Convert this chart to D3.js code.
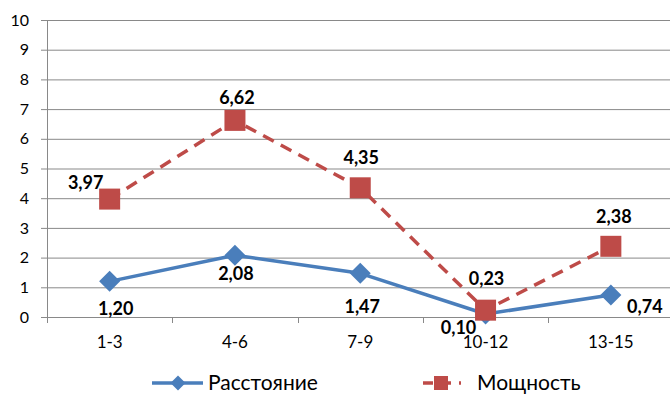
<!DOCTYPE html>
<html><head><meta charset="utf-8">
<script src="https://cdn.jsdelivr.net/npm/d3@7"></script>
<style>body{margin:0;background:#fff}svg{display:block}text{font-family:Lato,"Open Sans",sans-serif}</style>
</head><body>
<svg id="c" width="670" height="394"></svg>
<script>
const categories = ["1-3","4-6","7-9","10-12","13-15"];
const distance = [1.20, 2.08, 1.47, 0.10, 0.74];
const power = [3.97, 6.62, 4.35, 0.23, 2.38];
const yTicks = [0,1,2,3,4,5,6,7,8,9,10];
const seriesNames = ["Расстояние","Мощность"];

const fmt = v => v.toFixed(2).replace(".", ",");
const svg = d3.select("#c");
const L = 47, R = 673.5, T = 20, B = 317;
const x = d3.scaleBand().domain(categories).range([L, R]).padding(0);
const y = d3.scaleLinear().domain([0, 10]).range([B, T]);
const cx = c => x(c) + x.bandwidth() / 2;
const grid = "#898989";

// gridlines
svg.append("g").attr("transform", `translate(${L},0)`)
  .call(d3.axisLeft(y).tickValues(yTicks).tickSize(-(R - L)).tickFormat(""))
  .call(g => g.select(".domain").remove())
  .call(g => g.selectAll("line").attr("stroke", grid).attr("stroke-width", 1));
// y axis ticks + labels
svg.append("g").attr("transform", `translate(${L},0)`)
  .call(d3.axisLeft(y).tickValues(yTicks).tickSize(6).tickPadding(12).tickFormat(d3.format("d")))
  .call(g => g.select(".domain").attr("stroke", grid).attr("d", `M0.5,${T}V${B}`))
  .call(g => g.selectAll("line").attr("stroke", grid))
  .call(g => g.selectAll("text").attr("font-size", 16).attr("fill", "#000").attr("font-family", "Lato,'Open Sans',sans-serif"));
// x axis
svg.append("g").attr("transform", `translate(0,${B})`)
  .call(d3.axisBottom(x).tickSize(0).tickPadding(19))
  .call(g => g.select(".domain").remove())
  .call(g => g.selectAll("text").attr("font-size", 17).attr("fill", "#000").attr("font-family", "Lato,'Open Sans',sans-serif"));
svg.append("line").attr("x1", L).attr("x2", R).attr("y1", B + 0.5).attr("y2", B + 0.5).attr("stroke", grid);
const bounds = categories.map(c => x(c)).concat([R]);
svg.append("g").selectAll("line").data(bounds).join("line")
  .attr("x1", d => Math.round(d) + 0.5).attr("x2", d => Math.round(d) + 0.5)
  .attr("y1", B).attr("y2", B + 6).attr("stroke", grid);

const blue = "#4A7EBB", red = "#BE4B48";
const line = d3.line().x((d, i) => cx(categories[i])).y(d => y(d));

// blue series
svg.append("path").datum(distance).attr("d", line).attr("fill", "none")
  .attr("stroke", blue).attr("stroke-width", 3.5).attr("stroke-linejoin", "round");
const diamond = s => `M0,${-s}L${s},0L0,${s}L${-s},0Z`;
svg.append("g").selectAll("path").data(distance).join("path")
  .attr("transform", (d, i) => `translate(${cx(categories[i])},${y(d)})`)
  .attr("d", diamond(10.5)).attr("fill", blue);

// red series
svg.append("path").datum(power).attr("d", line).attr("fill", "none")
  .attr("stroke", red).attr("stroke-width", 3.5).attr("stroke-dasharray", "12,8");
svg.append("g").selectAll("rect").data(power).join("rect")
  .attr("x", (d, i) => cx(categories[i]) - 10.5).attr("y", d => y(d) - 10.5)
  .attr("width", 21).attr("height", 21).attr("fill", red);

// data labels
const blueOff = [[6,34],[1,25],[2,40],[-27,20],[34,18]];
const redOff = [[-24,-10],[2,-16],[1,-24],[1,-25],[3,-23]];
function labels(data, off) {
  svg.append("g").selectAll("text").data(data).join("text")
    .attr("x", (d, i) => cx(categories[i]) + off[i][0])
    .attr("y", (d, i) => y(d) + off[i][1])
    .attr("text-anchor", "middle").attr("font-size", 18).attr("font-weight", "bold")
    .attr("fill", "#000").text(fmt);
}
labels(distance, blueOff);
labels(power, redOff);

// legend
const lg = svg.append("g");
lg.append("line").attr("x1", 152).attr("x2", 203).attr("y1", 383).attr("y2", 383).attr("stroke", blue).attr("stroke-width", 3.5);
lg.append("path").attr("transform", "translate(178,383)").attr("d", diamond(7.5)).attr("fill", blue);
lg.append("text").attr("x", 208).attr("y", 390).attr("font-size", 21).attr("fill", "#000").text(seriesNames[0]);
lg.append("line").attr("x1", 421).attr("x2", 461).attr("y1", 383).attr("y2", 383).attr("stroke", red).attr("stroke-width", 3.5).attr("stroke-dasharray", "10,8").attr("stroke-dashoffset", -2);
lg.append("rect").attr("x", 434).attr("y", 376).attr("width", 14).attr("height", 14).attr("fill", red);
lg.append("text").attr("x", 477).attr("y", 390).attr("font-size", 21).attr("fill", "#000").text(seriesNames[1]);
</script>
</body></html>
